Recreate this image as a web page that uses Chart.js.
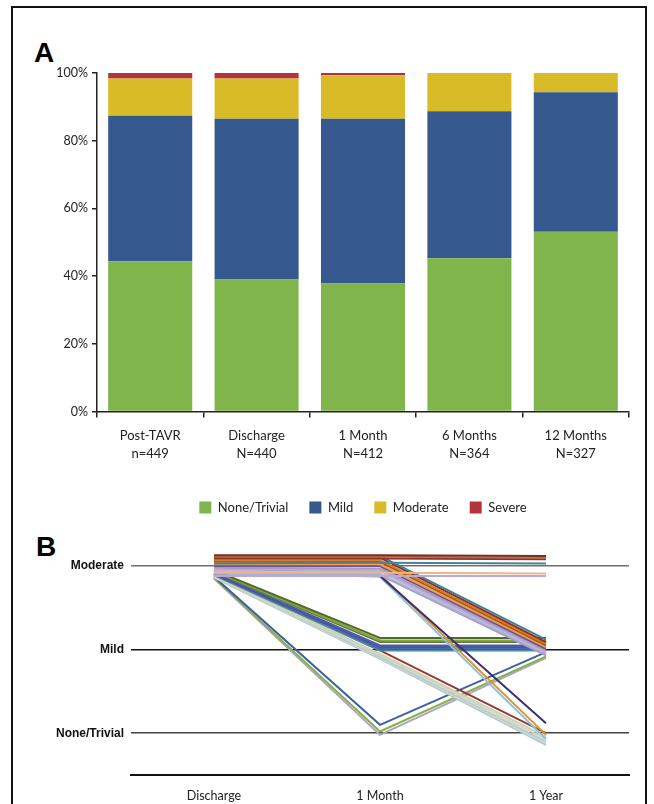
<!DOCTYPE html>
<html>
<head>
<meta charset="utf-8">
<script src="https://cdn.jsdelivr.net/npm/chart.js@4"></script>
<style>
  html, body { margin: 0; padding: 0; background: #fff; width: 654px; height: 804px; overflow: hidden; }
  .frame { position: absolute; left: 11px; top: 6px; width: 636px; height: 830px; border: 2.5px solid #111; box-sizing: border-box; }
  .panel-letter { position: absolute; font-family: "Liberation Sans", Arial, sans-serif; font-weight: bold; font-size: 28px; line-height: 28px; color: #000; }
  #chartA { position: absolute; left: 56px; top: 55px; }
  #chartB { position: absolute; left: 12px; top: 510px; }
</style>
</head>
<body>
<div class="frame"></div>
<div class="panel-letter" style="left:34px; top:39px;">A</div>
<div class="panel-letter" style="left:36px; top:533px;">B</div>
<canvas id="chartA" width="594" height="469"></canvas>
<canvas id="chartB" width="638" height="294"></canvas>
<script>
// ---- Panel A: paravalvular regurgitation grade by visit (percent of patients) ----
const visitLabels = [['Post-TAVR', 'n=449'], ['Discharge', 'N=440'], ['1 Month', 'N=412'], ['6 Months', 'N=364'], ['12 Months', 'N=327']];
const noneTrivial = [44.4, 39.0, 37.8, 45.3, 53.1];
const mild = [43.0, 47.5, 48.7, 43.4, 41.2];
const moderate = [11.0, 11.9, 12.8, 11.3, 5.7];
const severe = [1.6, 1.6, 0.7, 0, 0];

// ---- Panel B: individual patients with moderate regurgitation at discharge ----
const timepoints = ['Discharge', '1 Month', '1 Year'];
const gradeLabels = ['None/Trivial', 'Mild', 'Moderate'];
const atDischarge = [2.13, 2.11, 2.09, 2.03, 1.92, 1.88,
  2.12, 2.10, 2.07, 2.05, 2.02, 2.00, 1.98, 1.96, 1.94, 1.91, 1.89,
  1.99, 1.95, 1.93,
  1.95, 1.94, 1.93, 1.92, 1.91, 1.90, 1.89,
  1.91, 1.89, 1.88, 1.88, 1.87, 1.86,
  1.87, 1.86, 1.85];
const atOneMonth = [2.13, 2.11, 2.09, 2.04, 1.92, 1.88,
  2.12, 2.10, 2.07, 2.05, 2.02, 2.00, 1.97, 1.95, 1.93, 1.90, 1.89,
  1.88, 1.90, 1.87,
  1.14, 1.11, 1.09, 1.05, 1.03, 1.01, 0.99,
  0.99, 0.95, 0.93, 0.91, 0.90, 0.89,
  0.10, 0.02, -0.02];
const atOneYear = [2.12, 2.10, 2.08, 2.03, 1.91, 1.88,
  1.12, 1.09, 1.07, 1.05, 1.03, 1.01, 0.99, 0.97, 0.96, 0.95, 0.93,
  0.12, -0.02, -0.07,
  1.14, 1.11, 1.09, 1.05, 1.03, 1.01, 0.99,
  0.00, -0.04, -0.07, -0.10, -0.12, -0.14,
  0.97, 0.92, 0.90];
const traceColors = ['#7b2b2b', '#b8742e', '#8e3232', '#4d7f99', '#efb48c', '#b9abd0',
  '#3f7f8f', '#8b2f2f', '#e07a1f', '#9a5a1c', '#f2a041', '#6b5290', '#a99ac7', '#b6afd2', '#c5b8de', '#9fb1d2', '#a894c6',
  '#3b3070', '#e3902e', '#8cc3dc',
  '#4e6a2e', '#86a53c', '#5e7c3a', '#4a5ea8', '#5a4a98', '#3f6db0', '#4b8ba2',
  '#9a3838', '#c9d5b1', '#d9d5bf', '#b9c9da', '#d1e0b9', '#a9c5d9',
  '#3e5fa1', '#8ab23f', '#a9a1d2'];

const regularFont = 'Lato, "Open Sans", sans-serif';
const boldFont = '"Liberation Sans", Arial, sans-serif';

// Centre the legend under the plot area rather than under the whole canvas.
const legendUnderPlot = {
  id: 'legendUnderPlot',
  afterLayout(chart) {
    const lg = chart.legend;
    if (!lg) return;
    const shift = (chart.chartArea.left + chart.chartArea.right) / 2 - (lg.left + lg.right) / 2;
    lg.left += shift;
    lg.right += shift;
  }
};

new Chart(document.getElementById('chartA'), {
  type: 'bar',
  data: {
    labels: visitLabels,
    datasets: [
      { label: 'None/Trivial', data: noneTrivial, backgroundColor: '#80b54c' },
      { label: 'Mild', data: mild, backgroundColor: '#35588f' },
      { label: 'Moderate', data: moderate, backgroundColor: '#d8bb27' },
      { label: 'Severe', data: severe, backgroundColor: '#b5333d' }
    ]
  },
  plugins: [legendUnderPlot],
  options: {
    responsive: false,
    animation: false,
    events: [],
    layout: { padding: { top: 18, right: 21, bottom: 0, left: 0 } },
    datasets: { bar: { barPercentage: 0.79, categoryPercentage: 1.0, borderWidth: 0 } },
    scales: {
      x: {
        stacked: true,
        grid: { display: true, drawOnChartArea: false, drawTicks: true, tickLength: 6, color: '#222', lineWidth: 1.5, offset: true },
        border: { display: true, color: '#222', width: 1.5 },
        ticks: { color: '#222', padding: 9, font: { family: regularFont, size: 13, lineHeight: 1.4 }, maxRotation: 0 },
        afterFit: s => { s.height = 68.5; }
      },
      y: {
        stacked: true,
        min: 0, max: 100,
        grid: { display: true, drawOnChartArea: false, drawTicks: true, tickLength: 5, color: '#222', lineWidth: 1.5 },
        border: { display: true, color: '#222', width: 1.5 },
        ticks: { stepSize: 20, color: '#222', padding: 4, font: { family: regularFont, size: 12.5 }, callback: v => v + '%' },
        afterFit: s => { s.width = 41; }
      }
    },
    plugins: {
      tooltip: { enabled: false },
      legend: {
        position: 'bottom',
        labels: { boxWidth: 12, boxHeight: 12, padding: 21, color: '#222', font: { family: regularFont, size: 13 } }
      }
    }
  }
});

const traces = atDischarge.map((d, i) => ({
  label: 'patient ' + (i + 1),
  data: [
    { x: 0, y: d },
    { x: 1, y: atOneMonth[i] },
    { x: 2, y: atOneYear[i] }
  ],
  borderColor: traceColors[i],
  borderWidth: 2,
  pointRadius: 0,
  tension: 0,
  fill: false
}));

const gradeLineColor = v => (v === 2 ? '#707070' : (v === 1 ? '#111' : '#444'));

new Chart(document.getElementById('chartB'), {
  type: 'line',
  data: { datasets: traces },
  options: {
    responsive: false,
    animation: false,
    events: [],
    layout: { padding: { top: 5, right: 21, bottom: 0, left: 0 } },
    scales: {
      x: {
        type: 'linear',
        min: -0.5, max: 2.5,
        afterBuildTicks: s => { s.ticks = timepoints.map((t, i) => ({ value: i })); },
        grid: { display: false },
        border: { display: true, color: '#111', width: 2 },
        ticks: { color: '#222', padding: 5, font: { family: regularFont, size: 12.5 }, maxRotation: 0, autoSkip: false,
          callback: v => timepoints[v] },
        afterFit: s => { s.height = 29; }
      },
      y: {
        type: 'linear',
        min: -0.5, max: 2.5,
        afterBuildTicks: s => { s.ticks = gradeLabels.map((g, i) => ({ value: i })); },
        grid: {
          display: true, drawTicks: false,
          color: ctx => gradeLineColor(ctx.tick ? ctx.tick.value : -1),
          lineWidth: 1.6
        },
        border: { display: false },
        ticks: { color: '#111', padding: 7, font: { family: boldFont, size: 12, weight: 'bold' }, autoSkip: false,
          callback: v => gradeLabels[v] },
        afterFit: s => { s.width = 119; }
      }
    },
    plugins: { tooltip: { enabled: false }, legend: { display: false } }
  }
});
</script>
</body>
</html>
